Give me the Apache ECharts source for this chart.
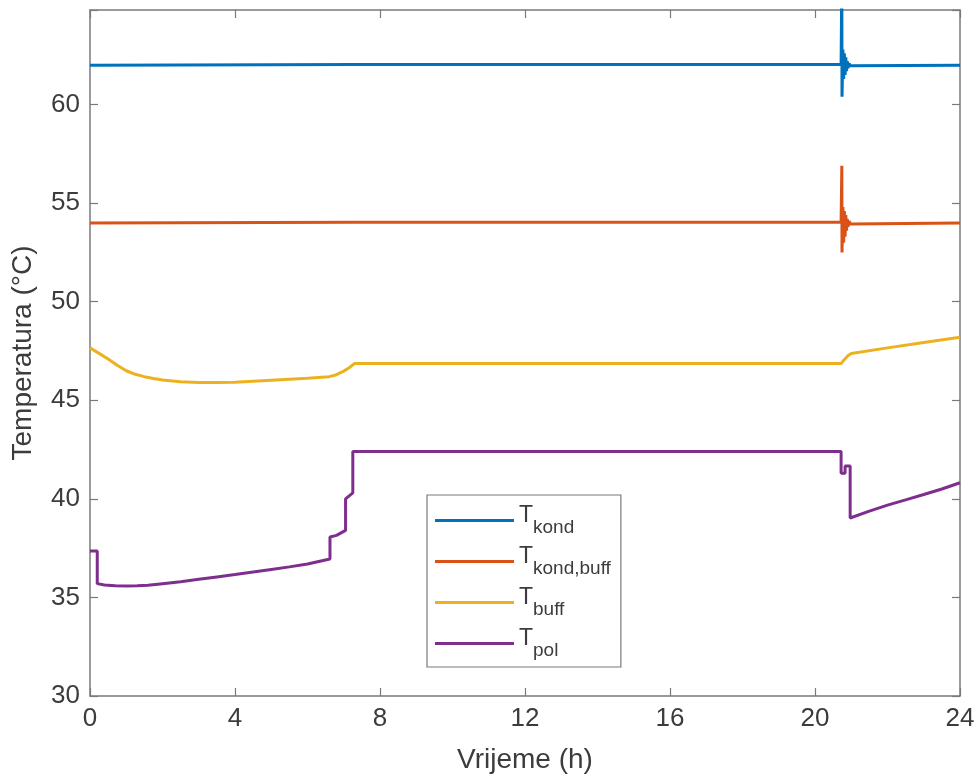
<!DOCTYPE html>
<html>
<head>
<meta charset="utf-8">
<script src="https://cdn.jsdelivr.net/npm/echarts@6/dist/echarts.min.js"></script>
<style>html,body{margin:0;padding:0;background:#fff}#c{width:978px;height:780px}</style>
</head>
<body>
<div id="c"></div>
<script>
// x = Vrijeme (h), y = Temperatura (°C)
var xTicks = [0, 4, 8, 12, 16, 20, 24];
var yTicks = [30, 35, 40, 45, 50, 55, 60];

var tKond = [[0,62.0],[7.3,62.03],[20.72,62.03],[20.74,66.5],[20.745,60.4],[20.77,62.8],[20.79,61.3],[20.81,62.6],[20.83,61.5],[20.85,62.4],[20.87,61.7],[20.89,62.2],[20.91,61.85],[20.94,62.1],[20.97,61.97],[21.0,62.02],[24,62.0]];
var tKondBuff = [[0,54.0],[7.3,54.03],[20.72,54.03],[20.74,56.9],[20.745,52.5],[20.77,54.8],[20.79,53.0],[20.81,54.6],[20.83,53.3],[20.85,54.4],[20.87,53.6],[20.89,54.2],[20.91,53.8],[20.94,54.1],[20.97,53.95],[21.0,54.02],[24,54.0]];
var tBuff = [[0,47.66],[0.25,47.38],[0.5,47.1],[0.75,46.78],[1,46.5],[1.25,46.32],[1.5,46.2],[1.75,46.11],[2,46.03],[2.5,45.94],[3,45.9],[3.5,45.9],[4,45.92],[5,46.02],[6,46.12],[6.6,46.2],[6.8,46.3],[7.0,46.48],[7.15,46.65],[7.3,46.87],[20.72,46.87],[20.8,47.05],[20.9,47.25],[21.0,47.38],[22,47.66],[23,47.93],[24,48.2]];
var tPol = [[0,37.36],[0.2,37.36],[0.2,35.7],[0.4,35.63],[0.7,35.59],[1,35.58],[1.3,35.59],[1.6,35.62],[2,35.7],[2.5,35.8],[3,35.92],[3.5,36.04],[4,36.16],[4.5,36.29],[5,36.42],[5.5,36.55],[6,36.7],[6.62,36.95],[6.62,38.07],[6.8,38.15],[7.05,38.4],[7.05,40.0],[7.25,40.3],[7.25,42.4],[20.72,42.4],[20.72,41.3],[20.83,41.3],[20.83,41.67],[20.97,41.67],[20.97,39.03],[21.5,39.38],[22,39.68],[22.5,39.95],[23,40.22],[23.5,40.5],[24,40.82]];

var seriesNames = ['T_kond', 'T_kond,buff', 'T_buff', 'T_pol'];
var legendSubs = ['kond', 'kond,buff', 'buff', 'pol'];
var colors = ['#0072BD', '#D95319', '#EDB120', '#7E2F8E'];
var seriesData = [tKond, tKondBuff, tBuff, tPol];

var axisCol = '#7a7a7a';
var textCol = '#3c3c3c';
var font = 'Liberation Sans, Arial, Helvetica, sans-serif';

function baseAxis(extra) {
  var a = {
    axisLine: { show: true, onZero: false, lineStyle: { color: axisCol, width: 1.5 } },
    axisTick: { show: true, inside: true, length: 8, lineStyle: { color: axisCol, width: 1.2 } },
    splitLine: { show: false },
    axisLabel: { color: textCol, fontSize: 26, fontFamily: font, margin: 10 }
  };
  for (var k in extra) a[k] = extra[k];
  return a;
}

var chart = echarts.init(document.getElementById('c'), null, { renderer: 'canvas' });
var option = {
  animation: false,
  backgroundColor: '#fff',
  textStyle: { fontFamily: font },
  grid: { left: 90, right: 18, top: 10, bottom: 84, containLabel: false },
  xAxis: [
    baseAxis({ type: 'value', min: xTicks[0], max: xTicks[xTicks.length - 1], interval: 4,
      name: 'Vrijeme (h)', nameLocation: 'middle', nameGap: 50,
      nameTextStyle: { color: textCol, fontSize: 28, fontFamily: font } }),
    baseAxis({ type: 'value', position: 'top', min: 0, max: 24, interval: 4,
      axisLabel: { show: false } })
  ],
  yAxis: [
    baseAxis({ type: 'value', min: yTicks[0], max: 64.8, interval: 5,
      name: 'Temperatura (°C)', nameLocation: 'middle', nameGap: 53,
      nameTextStyle: { color: textCol, fontSize: 28, fontFamily: font },
      axisLabel: { color: textCol, fontSize: 26, fontFamily: font, margin: 10,
        formatter: function (v) { return yTicks.indexOf(v) >= 0 ? String(v) : ''; } } }),
    baseAxis({ type: 'value', position: 'right', min: 30, max: 64.8, interval: 5,
      axisLabel: { show: false } })
  ],
  legend: {
    orient: 'vertical',
    left: 427, top: 495,
    width: 196,
    backgroundColor: '#fff',
    borderColor: axisCol, borderWidth: 1.2,
    padding: [9, 10, 7, 8],
    itemWidth: 79, itemHeight: 14, itemGap: 8,
    icon: 'path://M0,6 L80,6 L80,8.8 L0,8.8 Z',
    data: seriesNames,
    formatter: function (name) {
      return '{t|T}{s|' + legendSubs[seriesNames.indexOf(name)] + '}';
    },
    textStyle: {
      color: textCol, fontFamily: font,
      rich: {
        t: { fontSize: 23, color: textCol, fontFamily: font, verticalAlign: 'top', lineHeight: 33 },
        s: { fontSize: 19, color: textCol, fontFamily: font, verticalAlign: 'bottom', lineHeight: 22, padding: [11, 0, 0, 0] }
      }
    }
  },
  series: seriesData.map(function (d, i) {
    return {
      name: seriesNames[i], type: 'line', data: d, showSymbol: false, symbol: 'none',
      clip: true, color: colors[i],
      lineStyle: { color: colors[i], width: 3 },
      itemStyle: { color: colors[i] },
      z: 2 + i
    };
  })
};
chart.setOption(option);
</script>
</body>
</html>
